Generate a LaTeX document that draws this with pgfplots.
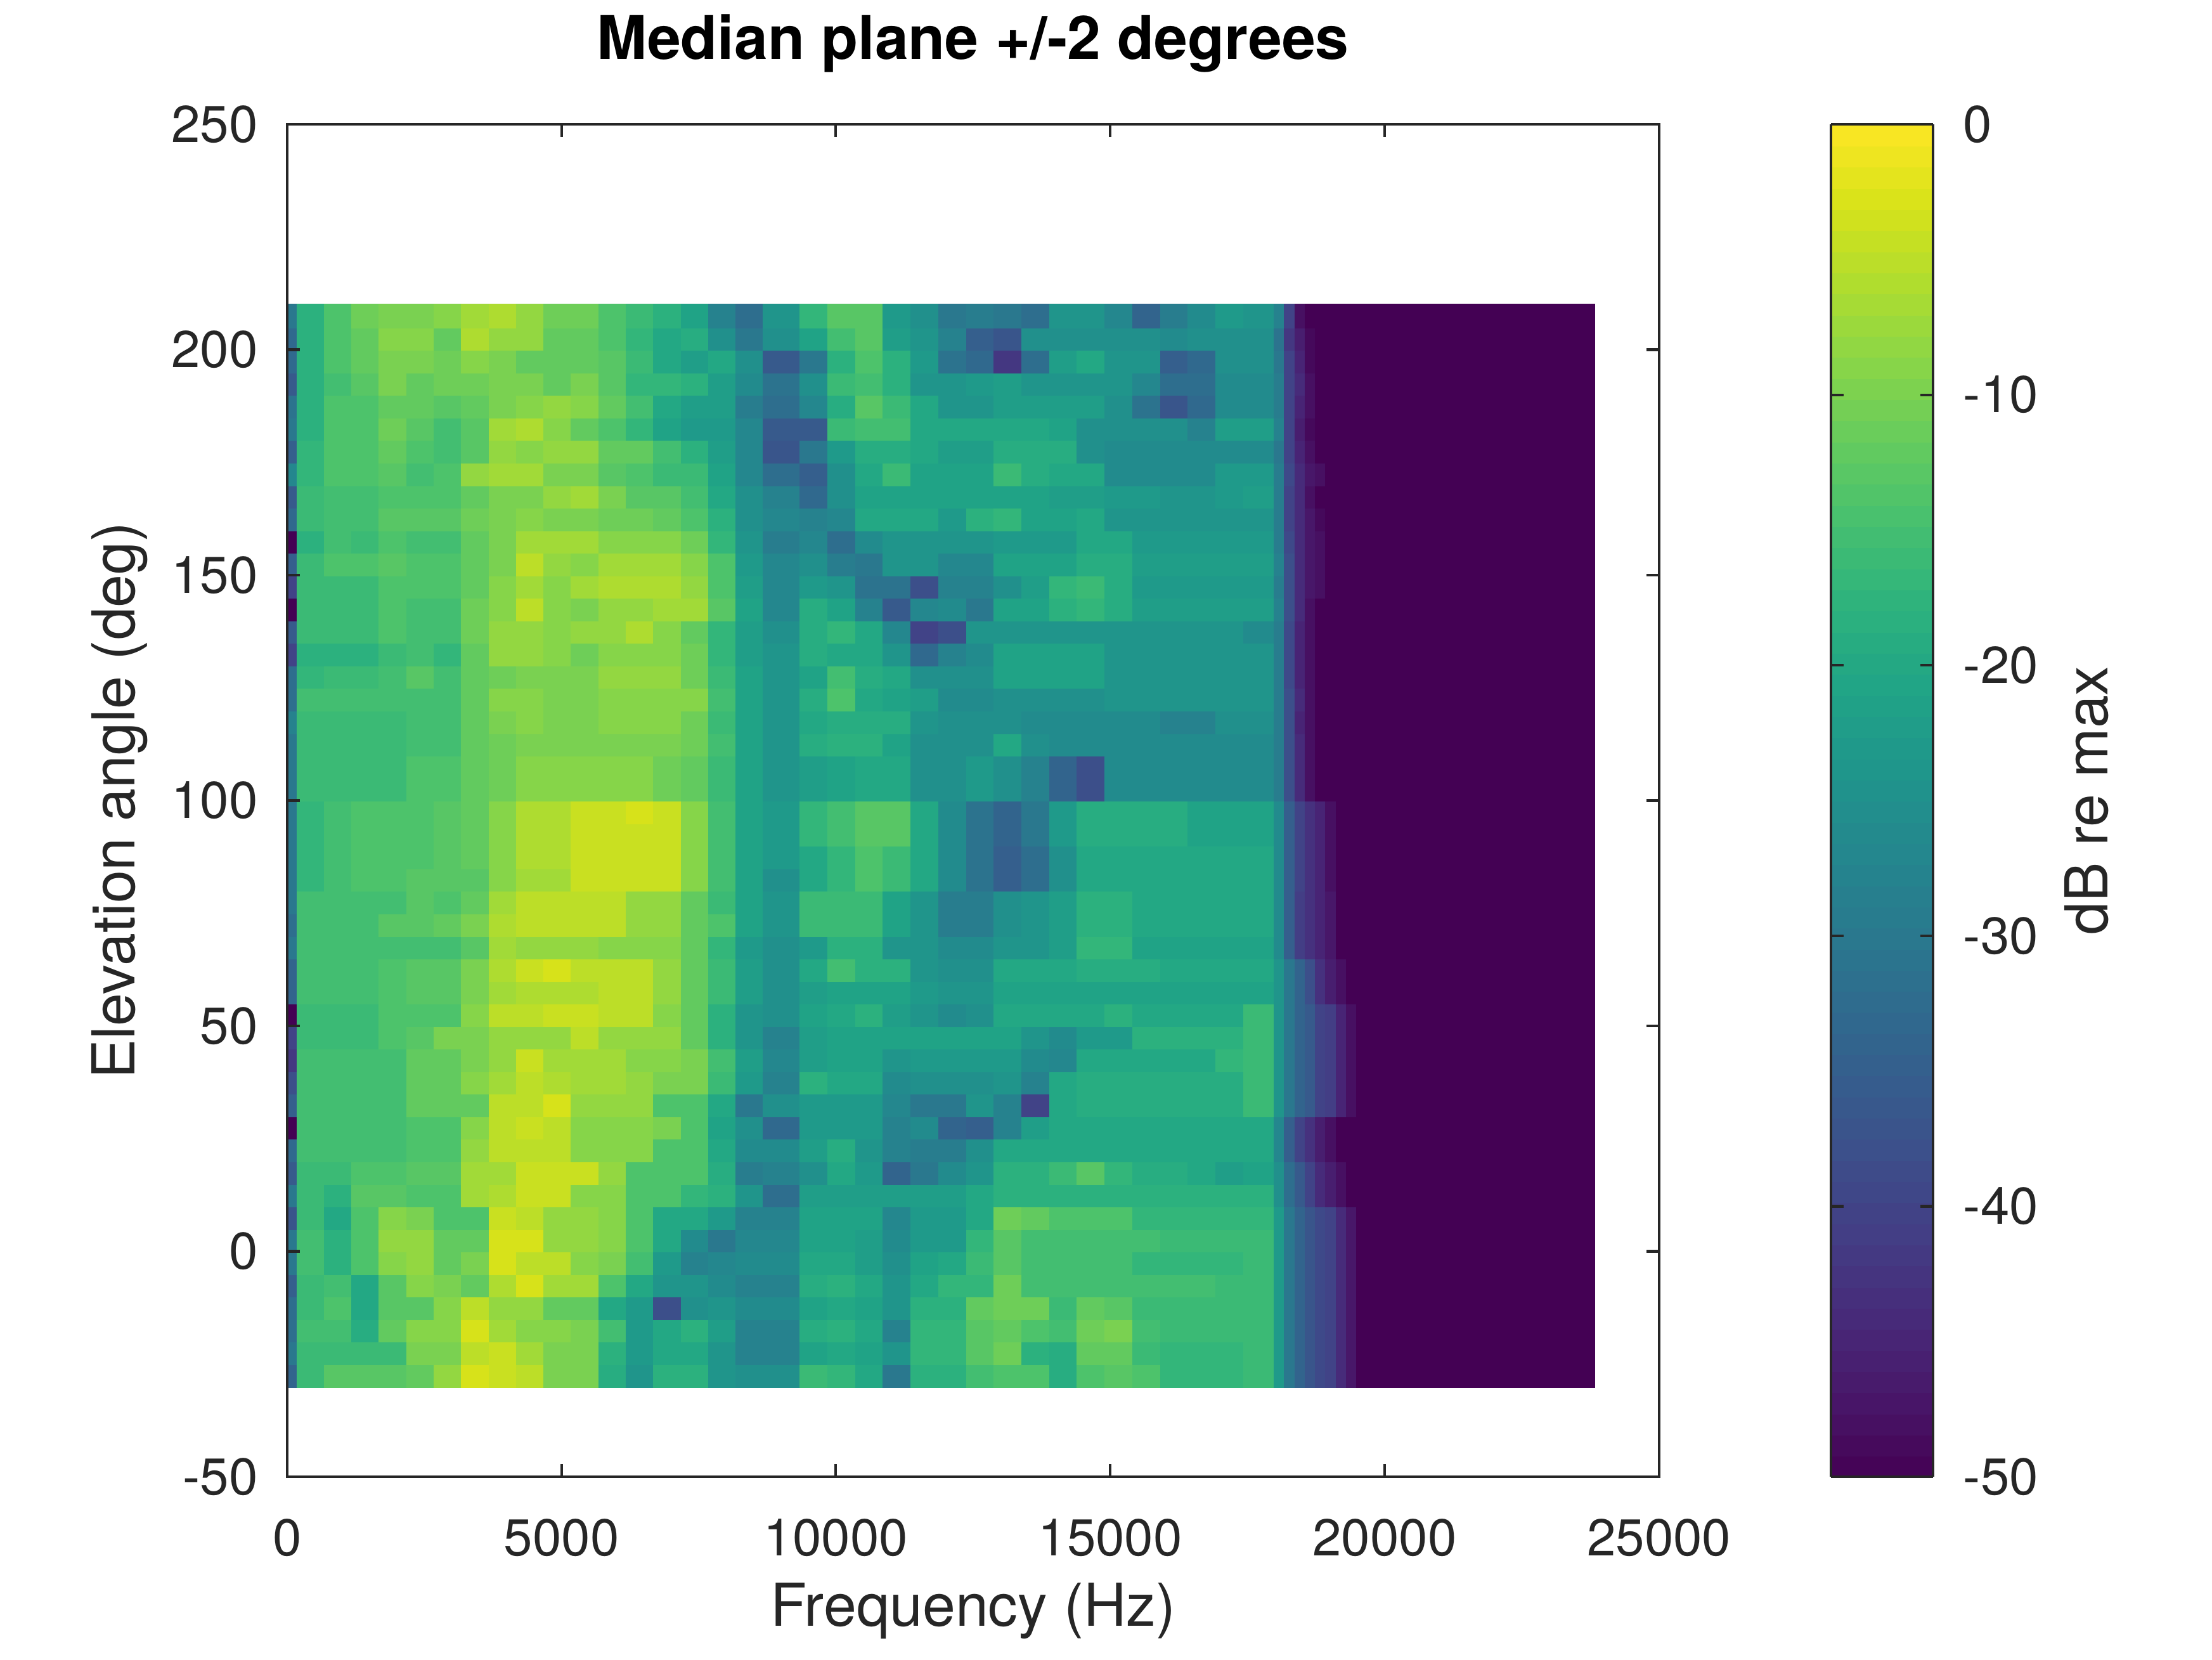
\documentclass[border=0pt]{standalone}
\usepackage{pgfplots}
\pgfplotsset{compat=1.18}
\usepackage{fontspec}
\setmainfont{TeX Gyre Heros}
\definecolor{axgray}{HTML}{262626}
\begin{document}
\begin{tikzpicture}
\begin{axis}[
  scale only axis, width=259.66pt, height=255.96pt,
  xmin=0, xmax=25000, ymin=-50, ymax=250,
  xtick={0,5000,10000,15000,20000,25000}, ytick={-50,0,50,100,150,200,250},
  scaled x ticks=false,
  /pgf/number format/1000 sep={},
  /pgf/number format/assume math mode=true,
  tick align=inside, major tick length=2.4pt,
  xtick pos=both, ytick pos=both,
  axis on top,
  axis line style={axgray, line width=0.5pt},
  tick style={axgray, line width=0.5pt},
  ticklabel style={font=\fontsize{9.8}{11}\selectfont, text=axgray},
  xticklabel style={yshift=-4.4pt},
  yticklabel style={xshift=-2pt},
  colormap/viridis,
  point meta min=-50, point meta max=0,
  colorbar sampled,
  colorbar style={
    samples=65,
    width=19.32pt,
    at={(parent axis.north east)}, anchor=north west, xshift=24.03pt,
    ytick={-50,-40,-30,-20,-10,0},
    tick align=inside, major tick length=2.4pt,
    ytick pos=both, yticklabel pos=right,
    axis line style={axgray, line width=0.5pt},
    tick style={axgray, line width=0.5pt},
    yticklabel style={font=\fontsize{9.8}{11}\selectfont, text=axgray, xshift=2.2pt},
    /pgf/number format/assume math mode=true,
  },
]
\addplot[surf, shader=flat corner, mesh/cols=46, point meta=explicit] table[row sep=\\, x=x, y=y, meta=z] {
x y z\\
0 -30 -34\\190 -30 -16\\690 -30 -13\\1190 -30 -13\\1690 -30 -13\\2190 -30 -12\\2690 -30 -8\\3190 -30 -3\\3690 -30 -4\\4190 -30 -5\\4690 -30 -10\\5190 -30 -10\\5690 -30 -19\\6190 -30 -24\\6690 -30 -18\\7190 -30 -18\\7690 -30 -24\\8190 -30 -25\\8690 -30 -25\\9360 -30 -16\\9865 -30 -17\\10370 -30 -20\\10875 -30 -30\\11380 -30 -18\\11885 -30 -18\\12390 -30 -15\\12895 -30 -14\\13400 -30 -14\\13905 -30 -19\\14410 -30 -14\\14915 -30 -13\\15420 -30 -14\\15925 -30 -17\\16430 -30 -17\\16935 -30 -17\\17440 -30 -16\\18000 -30 -23\\18188 -30 -30\\18375 -30 -34\\18562 -30 -37\\18750 -30 -39\\18938 -30 -40\\19125 -30 -44\\19312 -30 -47\\19500 -30 -50\\23812 -30 -50\\
0 -25 -30\\190 -25 -16\\690 -25 -16\\1190 -25 -16\\1690 -25 -16\\2190 -25 -10\\2690 -25 -10\\3190 -25 -5\\3690 -25 -4\\4190 -25 -7\\4690 -25 -10\\5190 -25 -10\\5690 -25 -18\\6190 -25 -23\\6690 -25 -20\\7190 -25 -20\\7690 -25 -24\\8190 -25 -28\\8690 -25 -28\\9360 -25 -21\\9865 -25 -20\\10370 -25 -21\\10875 -25 -24\\11380 -25 -17\\11885 -25 -17\\12390 -25 -13\\12895 -25 -11\\13400 -25 -18\\13905 -25 -19\\14410 -25 -12\\14915 -25 -12\\15420 -25 -16\\15925 -25 -17\\16430 -25 -17\\16935 -25 -17\\17440 -25 -16\\18000 -25 -23\\18188 -25 -30\\18375 -25 -34\\18562 -25 -37\\18750 -25 -39\\18938 -25 -40\\19125 -25 -44\\19312 -25 -47\\19500 -25 -50\\23812 -25 -50\\
0 -20 -32\\190 -20 -15\\690 -20 -15\\1190 -20 -19\\1690 -20 -12\\2190 -20 -9\\2690 -20 -9\\3190 -20 -3\\3690 -20 -7\\4190 -20 -9\\4690 -20 -9\\5190 -20 -10\\5690 -20 -15\\6190 -20 -23\\6690 -20 -20\\7190 -20 -18\\7690 -20 -22\\8190 -20 -28\\8690 -20 -28\\9360 -20 -19\\9865 -20 -18\\10370 -20 -20\\10875 -20 -28\\11380 -20 -17\\11885 -20 -17\\12390 -20 -13\\12895 -20 -12\\13400 -20 -14\\13905 -20 -15\\14410 -20 -11\\14915 -20 -10\\15420 -20 -15\\15925 -20 -16\\16430 -20 -16\\16935 -20 -16\\17440 -20 -16\\18000 -20 -23\\18188 -20 -30\\18375 -20 -34\\18562 -20 -37\\18750 -20 -39\\18938 -20 -40\\19125 -20 -44\\19312 -20 -47\\19500 -20 -50\\23812 -20 -50\\
0 -15 -32\\190 -15 -16\\690 -15 -14\\1190 -15 -20\\1690 -15 -13\\2190 -15 -13\\2690 -15 -9\\3190 -15 -5\\3690 -15 -8\\4190 -15 -8\\4690 -15 -12\\5190 -15 -12\\5690 -15 -20\\6190 -15 -23\\6690 -15 -38\\7190 -15 -25\\7690 -15 -24\\8190 -15 -26\\8690 -15 -26\\9360 -15 -21\\9865 -15 -20\\10370 -15 -21\\10875 -15 -24\\11380 -15 -18\\11885 -15 -18\\12390 -15 -12\\12895 -15 -11\\13400 -15 -11\\13905 -15 -16\\14410 -15 -12\\14915 -15 -13\\15420 -15 -16\\15925 -15 -16\\16430 -15 -16\\16935 -15 -16\\17440 -15 -16\\18000 -15 -23\\18188 -15 -30\\18375 -15 -34\\18562 -15 -37\\18750 -15 -39\\18938 -15 -40\\19125 -15 -44\\19312 -15 -47\\19500 -15 -50\\23812 -15 -50\\
0 -10 -35\\190 -10 -16\\690 -10 -15\\1190 -10 -20\\1690 -10 -13\\2190 -10 -9\\2690 -10 -10\\3190 -10 -12\\3690 -10 -6\\4190 -10 -3\\4690 -10 -7\\5190 -10 -7\\5690 -10 -14\\6190 -10 -20\\6690 -10 -24\\7190 -10 -24\\7690 -10 -26\\8190 -10 -28\\8690 -10 -28\\9360 -10 -19\\9865 -10 -18\\10370 -10 -20\\10875 -10 -24\\11380 -10 -20\\11885 -10 -17\\12390 -10 -17\\12895 -10 -11\\13400 -10 -15\\13905 -10 -15\\14410 -10 -15\\14915 -10 -15\\15420 -10 -15\\15925 -10 -15\\16430 -10 -15\\16935 -10 -16\\17440 -10 -16\\18000 -10 -23\\18188 -10 -30\\18375 -10 -34\\18562 -10 -37\\18750 -10 -39\\18938 -10 -40\\19125 -10 -44\\19312 -10 -47\\19500 -10 -50\\23812 -10 -50\\
0 -5 -30\\190 -5 -15\\690 -5 -18\\1190 -5 -14\\1690 -5 -9\\2190 -5 -8\\2690 -5 -12\\3190 -5 -10\\3690 -5 -3\\4190 -5 -5\\4690 -5 -5\\5190 -5 -9\\5690 -5 -10\\6190 -5 -15\\6690 -5 -23\\7190 -5 -28\\7690 -5 -27\\8190 -5 -26\\8690 -5 -26\\9360 -5 -20\\9865 -5 -20\\10370 -5 -22\\10875 -5 -25\\11380 -5 -21\\11885 -5 -20\\12390 -5 -16\\12895 -5 -13\\13400 -5 -15\\13905 -5 -15\\14410 -5 -15\\14915 -5 -15\\15420 -5 -17\\15925 -5 -17\\16430 -5 -17\\16935 -5 -17\\17440 -5 -16\\18000 -5 -23\\18188 -5 -30\\18375 -5 -34\\18562 -5 -37\\18750 -5 -39\\18938 -5 -40\\19125 -5 -44\\19312 -5 -47\\19500 -5 -50\\23812 -5 -50\\
0 0 -30\\190 0 -15\\690 0 -18\\1190 0 -14\\1690 0 -8\\2190 0 -8\\2690 0 -12\\3190 0 -12\\3690 0 -3\\4190 0 -3\\4690 0 -8\\5190 0 -8\\5690 0 -9\\6190 0 -14\\6690 0 -20\\7190 0 -26\\7690 0 -30\\8190 0 -27\\8690 0 -27\\9360 0 -21\\9865 0 -21\\10370 0 -22\\10875 0 -26\\11380 0 -23\\11885 0 -23\\12390 0 -17\\12895 0 -13\\13400 0 -15\\13905 0 -15\\14410 0 -15\\14915 0 -15\\15420 0 -15\\15925 0 -16\\16430 0 -16\\16935 0 -16\\17440 0 -16\\18000 0 -23\\18188 0 -30\\18375 0 -34\\18562 0 -37\\18750 0 -39\\18938 0 -40\\19125 0 -44\\19312 0 -47\\19500 0 -50\\23812 0 -50\\
0 5 -37\\190 5 -16\\690 5 -20\\1190 5 -14\\1690 5 -9\\2190 5 -10\\2690 5 -14\\3190 5 -14\\3690 5 -4\\4190 5 -5\\4690 5 -8\\5190 5 -8\\5690 5 -9\\6190 5 -14\\6690 5 -20\\7190 5 -20\\7690 5 -23\\8190 5 -28\\8690 5 -28\\9360 5 -21\\9865 5 -21\\10370 5 -21\\10875 5 -27\\11380 5 -23\\11885 5 -23\\12390 5 -20\\12895 5 -11\\13400 5 -12\\13905 5 -14\\14410 5 -14\\14915 5 -14\\15420 5 -17\\15925 5 -17\\16430 5 -17\\16935 5 -17\\17440 5 -17\\18000 5 -23\\18188 5 -30\\18375 5 -34\\18562 5 -37\\18750 5 -39\\18938 5 -40\\19125 5 -44\\19312 5 -47\\19500 5 -50\\23812 5 -50\\
0 10 -30\\190 10 -16\\690 10 -18\\1190 10 -13\\1690 10 -13\\2190 10 -14\\2690 10 -14\\3190 10 -7\\3690 10 -6\\4190 10 -4\\4690 10 -4\\5190 10 -9\\5690 10 -9\\6190 10 -14\\6690 10 -14\\7190 10 -17\\7690 10 -18\\8190 10 -24\\8690 10 -32\\9360 10 -22\\9865 10 -22\\10370 10 -22\\10875 10 -22\\11380 10 -22\\11885 10 -22\\12390 10 -20\\12895 10 -18\\13400 10 -18\\13905 10 -18\\14410 10 -18\\14915 10 -18\\15420 10 -18\\15925 10 -18\\16430 10 -18\\16935 10 -18\\17440 10 -18\\18000 10 -25\\18188 10 -32\\18375 10 -36\\18562 10 -40\\18750 10 -44\\18938 10 -46\\19125 10 -48\\19312 10 -50\\19500 10 -50\\23812 10 -50\\
0 15 -36\\190 15 -16\\690 15 -16\\1190 15 -14\\1690 15 -14\\2190 15 -13\\2690 15 -13\\3190 15 -7\\3690 15 -7\\4190 15 -4\\4690 15 -4\\5190 15 -4\\5690 15 -8\\6190 15 -14\\6690 15 -14\\7190 15 -14\\7690 15 -19\\8190 15 -29\\8690 15 -28\\9360 15 -25\\9865 15 -20\\10370 15 -23\\10875 15 -34\\11380 15 -30\\11885 15 -26\\12390 15 -24\\12895 15 -18\\13400 15 -18\\13905 15 -16\\14410 15 -13\\14915 15 -17\\15420 15 -19\\15925 15 -19\\16430 15 -20\\16935 15 -22\\17440 15 -21\\18000 15 -25\\18188 15 -32\\18375 15 -36\\18562 15 -40\\18750 15 -44\\18938 15 -46\\19125 15 -48\\19312 15 -50\\19500 15 -50\\23812 15 -50\\
0 20 -33\\190 20 -15\\690 20 -15\\1190 20 -15\\1690 20 -15\\2190 20 -14\\2690 20 -14\\3190 20 -8\\3690 20 -5\\4190 20 -5\\4690 20 -5\\5190 20 -9\\5690 20 -9\\6190 20 -9\\6690 20 -14\\7190 20 -14\\7690 20 -20\\8190 20 -26\\8690 20 -26\\9360 20 -22\\9865 20 -19\\10370 20 -24\\10875 20 -28\\11380 20 -29\\11885 20 -29\\12390 20 -25\\12895 20 -20\\13400 20 -20\\13905 20 -20\\14410 20 -20\\14915 20 -20\\15420 20 -20\\15925 20 -20\\16430 20 -20\\16935 20 -20\\17440 20 -20\\18000 20 -27\\18188 20 -35\\18375 20 -40\\18562 20 -43\\18750 20 -46\\18938 20 -48\\19125 20 -50\\19312 20 -50\\19500 20 -50\\23812 20 -50\\
0 25 -50\\190 25 -15\\690 25 -15\\1190 25 -15\\1690 25 -15\\2190 25 -14\\2690 25 -14\\3190 25 -9\\3690 25 -5\\4190 25 -4\\4690 25 -5\\5190 25 -9\\5690 25 -9\\6190 25 -9\\6690 25 -10\\7190 25 -14\\7690 25 -21\\8190 25 -25\\8690 25 -33\\9360 25 -23\\9865 25 -23\\10370 25 -23\\10875 25 -28\\11380 25 -26\\11885 25 -34\\12390 25 -35\\12895 25 -28\\13400 25 -22\\13905 25 -20\\14410 25 -20\\14915 25 -20\\15420 25 -20\\15925 25 -20\\16430 25 -20\\16935 25 -20\\17440 25 -20\\18000 25 -27\\18188 25 -35\\18375 25 -40\\18562 25 -43\\18750 25 -46\\18938 25 -48\\19125 25 -50\\19312 25 -50\\19500 25 -50\\23812 25 -50\\
0 30 -35\\190 30 -15\\690 30 -15\\1190 30 -15\\1690 30 -15\\2190 30 -12\\2690 30 -12\\3190 30 -12\\3690 30 -5\\4190 30 -5\\4690 30 -3\\5190 30 -8\\5690 30 -8\\6190 30 -8\\6690 30 -14\\7190 30 -14\\7690 30 -20\\8190 30 -30\\8690 30 -25\\9360 30 -23\\9865 30 -23\\10370 30 -23\\10875 30 -27\\11380 30 -30\\11885 30 -30\\12390 30 -24\\12895 30 -28\\13400 30 -40\\13905 30 -20\\14410 30 -19\\14915 30 -19\\15420 30 -19\\15925 30 -19\\16430 30 -19\\16935 30 -19\\17440 30 -16\\18000 30 -24\\18188 30 -30\\18375 30 -34\\18562 30 -36\\18750 30 -40\\18938 30 -41\\19125 30 -45\\19312 30 -48\\19500 30 -50\\23812 30 -50\\
0 35 -38\\190 35 -15\\690 35 -15\\1190 35 -15\\1690 35 -15\\2190 35 -12\\2690 35 -12\\3190 35 -9\\3690 35 -7\\4190 35 -5\\4690 35 -6\\5190 35 -7\\5690 35 -7\\6190 35 -8\\6690 35 -10\\7190 35 -10\\7690 35 -16\\8190 35 -23\\8690 35 -28\\9360 35 -18\\9865 35 -20\\10370 35 -20\\10875 35 -26\\11380 35 -25\\11885 35 -25\\12390 35 -25\\12895 35 -24\\13400 35 -28\\13905 35 -20\\14410 35 -19\\14915 35 -19\\15420 35 -19\\15925 35 -19\\16430 35 -19\\16935 35 -19\\17440 35 -16\\18000 35 -24\\18188 35 -30\\18375 35 -34\\18562 35 -36\\18750 35 -40\\18938 35 -41\\19125 35 -45\\19312 35 -48\\19500 35 -50\\23812 35 -50\\
0 40 -42\\190 40 -15\\690 40 -15\\1190 40 -15\\1690 40 -15\\2190 40 -12\\2690 40 -12\\3190 40 -10\\3690 40 -8\\4190 40 -4\\4690 40 -7\\5190 40 -7\\5690 40 -7\\6190 40 -9\\6690 40 -9\\7190 40 -10\\7690 40 -15\\8190 40 -22\\8690 40 -27\\9360 40 -22\\9865 40 -21\\10370 40 -21\\10875 40 -24\\11380 40 -23\\11885 40 -23\\12390 40 -23\\12895 40 -23\\13400 40 -26\\13905 40 -27\\14410 40 -20\\14915 40 -20\\15420 40 -20\\15925 40 -20\\16430 40 -20\\16935 40 -17\\17440 40 -16\\18000 40 -24\\18188 40 -30\\18375 40 -34\\18562 40 -36\\18750 40 -40\\18938 40 -41\\19125 40 -45\\19312 40 -48\\19500 40 -50\\23812 40 -50\\
0 45 -40\\190 45 -16\\690 45 -16\\1190 45 -16\\1690 45 -14\\2190 45 -13\\2690 45 -10\\3190 45 -10\\3690 45 -8\\4190 45 -8\\4690 45 -8\\5190 45 -5\\5690 45 -8\\6190 45 -8\\6690 45 -8\\7190 45 -12\\7690 45 -18\\8190 45 -24\\8690 45 -28\\9360 45 -22\\9865 45 -21\\10370 45 -21\\10875 45 -21\\11380 45 -21\\11885 45 -21\\12390 45 -21\\12895 45 -21\\13400 45 -24\\13905 45 -26\\14410 45 -23\\14915 45 -23\\15420 45 -18\\15925 45 -18\\16430 45 -18\\16935 45 -18\\17440 45 -16\\18000 45 -24\\18188 45 -30\\18375 45 -34\\18562 45 -36\\18750 45 -40\\18938 45 -41\\19125 45 -45\\19312 45 -48\\19500 45 -50\\23812 45 -50\\
0 50 -50\\190 50 -16\\690 50 -16\\1190 50 -16\\1690 50 -14\\2190 50 -14\\2690 50 -14\\3190 50 -9\\3690 50 -5\\4190 50 -5\\4690 50 -4\\5190 50 -4\\5690 50 -5\\6190 50 -5\\6690 50 -9\\7190 50 -12\\7690 50 -18\\8190 50 -24\\8690 50 -25\\9360 50 -21\\9865 50 -20\\10370 50 -18\\10875 50 -22\\11380 50 -24\\11885 50 -26\\12390 50 -25\\12895 50 -20\\13400 50 -20\\13905 50 -20\\14410 50 -20\\14915 50 -18\\15420 50 -20\\15925 50 -20\\16430 50 -20\\16935 50 -20\\17440 50 -16\\18000 50 -24\\18188 50 -30\\18375 50 -34\\18562 50 -36\\18750 50 -40\\18938 50 -41\\19125 50 -45\\19312 50 -48\\19500 50 -50\\23812 50 -50\\
0 55 -34\\190 55 -15\\690 55 -15\\1190 55 -15\\1690 55 -14\\2190 55 -13\\2690 55 -13\\3190 55 -10\\3690 55 -7\\4190 55 -6\\4690 55 -6\\5190 55 -6\\5690 55 -5\\6190 55 -5\\6690 55 -8\\7190 55 -12\\7690 55 -16\\8190 55 -22\\8690 55 -25\\9360 55 -22\\9865 55 -21\\10370 55 -21\\10875 55 -21\\11380 55 -23\\11885 55 -24\\12390 55 -24\\12895 55 -21\\13400 55 -21\\13905 55 -21\\14410 55 -21\\14915 55 -21\\15420 55 -21\\15925 55 -21\\16430 55 -21\\16935 55 -21\\17440 55 -21\\18000 55 -24\\18188 55 -30\\18375 55 -34\\18562 55 -38\\18750 55 -43\\18938 55 -46\\19125 55 -48\\19312 55 -50\\19500 55 -50\\23812 55 -50\\
0 60 -34\\190 60 -15\\690 60 -15\\1190 60 -15\\1690 60 -14\\2190 60 -13\\2690 60 -13\\3190 60 -10\\3690 60 -6\\4190 60 -4\\4690 60 -3\\5190 60 -5\\5690 60 -5\\6190 60 -5\\6690 60 -8\\7190 60 -12\\7690 60 -16\\8190 60 -22\\8690 60 -25\\9360 60 -20\\9865 60 -15\\10370 60 -18\\10875 60 -18\\11380 60 -24\\11885 60 -25\\12390 60 -25\\12895 60 -20\\13400 60 -20\\13905 60 -20\\14410 60 -19\\14915 60 -19\\15420 60 -19\\15925 60 -20\\16430 60 -20\\16935 60 -20\\17440 60 -20\\18000 60 -24\\18188 60 -30\\18375 60 -34\\18562 60 -38\\18750 60 -43\\18938 60 -46\\19125 60 -48\\19312 60 -50\\19500 60 -50\\23812 60 -50\\
0 65 -30\\190 65 -15\\690 65 -15\\1190 65 -15\\1690 65 -15\\2190 65 -15\\2690 65 -15\\3190 65 -13\\3690 65 -7\\4190 65 -8\\4690 65 -8\\5190 65 -8\\5690 65 -9\\6190 65 -9\\6690 65 -9\\7190 65 -12\\7690 65 -17\\8190 65 -23\\8690 65 -25\\9360 65 -23\\9865 65 -18\\10370 65 -18\\10875 65 -24\\11380 65 -24\\11885 65 -26\\12390 65 -26\\12895 65 -24\\13400 65 -24\\13905 65 -22\\14410 65 -17\\14915 65 -17\\15420 65 -21\\15925 65 -21\\16430 65 -21\\16935 65 -21\\17440 65 -21\\18000 65 -26\\18188 65 -35\\18375 65 -41\\18562 65 -43\\18750 65 -45\\18938 65 -47\\19125 65 -50\\19312 65 -50\\19500 65 -50\\23812 65 -50\\
0 70 -32\\190 70 -15\\690 70 -15\\1190 70 -15\\1690 70 -13\\2190 70 -13\\2690 70 -12\\3190 70 -10\\3690 70 -6\\4190 70 -5\\4690 70 -5\\5190 70 -5\\5690 70 -5\\6190 70 -8\\6690 70 -8\\7190 70 -12\\7690 70 -14\\8190 70 -21\\8690 70 -24\\9360 70 -16\\9865 70 -16\\10370 70 -16\\10875 70 -21\\11380 70 -24\\11885 70 -29\\12390 70 -29\\12895 70 -25\\13400 70 -24\\13905 70 -22\\14410 70 -18\\14915 70 -18\\15420 70 -20\\15925 70 -20\\16430 70 -20\\16935 70 -20\\17440 70 -20\\18000 70 -26\\18188 70 -35\\18375 70 -41\\18562 70 -43\\18750 70 -45\\18938 70 -47\\19125 70 -50\\19312 70 -50\\19500 70 -50\\23812 70 -50\\
0 75 -30\\190 75 -15\\690 75 -15\\1190 75 -15\\1690 75 -15\\2190 75 -13\\2690 75 -14\\3190 75 -12\\3690 75 -7\\4190 75 -5\\4690 75 -5\\5190 75 -5\\5690 75 -5\\6190 75 -8\\6690 75 -8\\7190 75 -12\\7690 75 -16\\8190 75 -21\\8690 75 -24\\9360 75 -16\\9865 75 -16\\10370 75 -16\\10875 75 -21\\11380 75 -24\\11885 75 -29\\12390 75 -29\\12895 75 -25\\13400 75 -24\\13905 75 -22\\14410 75 -18\\14915 75 -18\\15420 75 -20\\15925 75 -20\\16430 75 -20\\16935 75 -20\\17440 75 -20\\18000 75 -26\\18188 75 -35\\18375 75 -41\\18562 75 -43\\18750 75 -45\\18938 75 -47\\19125 75 -50\\19312 75 -50\\19500 75 -50\\23812 75 -50\\
0 80 -30\\190 80 -17\\690 80 -15\\1190 80 -14\\1690 80 -14\\2190 80 -13\\2690 80 -13\\3190 80 -13\\3690 80 -9\\4190 80 -7\\4690 80 -7\\5190 80 -4\\5690 80 -4\\6190 80 -4\\6690 80 -4\\7190 80 -9\\7690 80 -15\\8190 80 -21\\8690 80 -25\\9360 80 -20\\9865 80 -17\\10370 80 -14\\10875 80 -16\\11380 80 -20\\11885 80 -26\\12390 80 -31\\12895 80 -35\\13400 80 -32\\13905 80 -25\\14410 80 -20\\14915 80 -20\\15420 80 -20\\15925 80 -20\\16430 80 -20\\16935 80 -20\\17440 80 -20\\18000 80 -26\\18188 80 -35\\18375 80 -40\\18562 80 -43\\18750 80 -45\\18938 80 -48\\19125 80 -50\\19312 80 -50\\19500 80 -50\\23812 80 -50\\
0 85 -30\\190 85 -17\\690 85 -15\\1190 85 -14\\1690 85 -14\\2190 85 -14\\2690 85 -13\\3190 85 -12\\3690 85 -9\\4190 85 -6\\4690 85 -6\\5190 85 -4\\5690 85 -4\\6190 85 -4\\6690 85 -4\\7190 85 -9\\7690 85 -15\\8190 85 -21\\8690 85 -23\\9360 85 -20\\9865 85 -17\\10370 85 -14\\10875 85 -16\\11380 85 -20\\11885 85 -26\\12390 85 -31\\12895 85 -35\\13400 85 -32\\13905 85 -25\\14410 85 -20\\14915 85 -20\\15420 85 -20\\15925 85 -20\\16430 85 -20\\16935 85 -20\\17440 85 -20\\18000 85 -26\\18188 85 -35\\18375 85 -40\\18562 85 -43\\18750 85 -45\\18938 85 -48\\19125 85 -50\\19312 85 -50\\19500 85 -50\\23812 85 -50\\
0 90 -30\\190 90 -17\\690 90 -15\\1190 90 -14\\1690 90 -14\\2190 90 -14\\2690 90 -13\\3190 90 -12\\3690 90 -9\\4190 90 -6\\4690 90 -6\\5190 90 -4\\5690 90 -4\\6190 90 -4\\6690 90 -4\\7190 90 -9\\7690 90 -15\\8190 90 -21\\8690 90 -23\\9360 90 -17\\9865 90 -15\\10370 90 -13\\10875 90 -13\\11380 90 -20\\11885 90 -26\\12390 90 -31\\12895 90 -34\\13400 90 -30\\13905 90 -23\\14410 90 -19\\14915 90 -19\\15420 90 -19\\15925 90 -19\\16430 90 -21\\16935 90 -21\\17440 90 -21\\18000 90 -26\\18188 90 -35\\18375 90 -40\\18562 90 -43\\18750 90 -45\\18938 90 -48\\19125 90 -50\\19312 90 -50\\19500 90 -50\\23812 90 -50\\
0 95 -30\\190 95 -17\\690 95 -15\\1190 95 -14\\1690 95 -14\\2190 95 -14\\2690 95 -13\\3190 95 -12\\3690 95 -9\\4190 95 -6\\4690 95 -6\\5190 95 -4\\5690 95 -4\\6190 95 -3\\6690 95 -4\\7190 95 -9\\7690 95 -15\\8190 95 -21\\8690 95 -23\\9360 95 -17\\9865 95 -15\\10370 95 -13\\10875 95 -13\\11380 95 -20\\11885 95 -26\\12390 95 -31\\12895 95 -34\\13400 95 -30\\13905 95 -23\\14410 95 -19\\14915 95 -19\\15420 95 -19\\15925 95 -19\\16430 95 -21\\16935 95 -21\\17440 95 -21\\18000 95 -26\\18188 95 -35\\18375 95 -40\\18562 95 -43\\18750 95 -45\\18938 95 -48\\19125 95 -50\\19312 95 -50\\19500 95 -50\\23812 95 -50\\
0 100 -30\\190 100 -16\\690 100 -16\\1190 100 -16\\1690 100 -16\\2190 100 -14\\2690 100 -14\\3190 100 -12\\3690 100 -11\\4190 100 -9\\4690 100 -9\\5190 100 -9\\5690 100 -9\\6190 100 -9\\6690 100 -11\\7190 100 -12\\7690 100 -16\\8190 100 -21\\8690 100 -24\\9360 100 -22\\9865 100 -21\\10370 100 -20\\10875 100 -20\\11380 100 -25\\11885 100 -25\\12390 100 -23\\12895 100 -25\\13400 100 -28\\13905 100 -34\\14410 100 -38\\14915 100 -26\\15420 100 -26\\15925 100 -26\\16430 100 -26\\16935 100 -26\\17440 100 -26\\18000 100 -29\\18188 100 -38\\18375 100 -44\\18562 100 -48\\18750 100 -50\\18938 100 -50\\19125 100 -50\\19312 100 -50\\19500 100 -50\\23812 100 -50\\
0 105 -30\\190 105 -16\\690 105 -16\\1190 105 -16\\1690 105 -16\\2190 105 -14\\2690 105 -14\\3190 105 -12\\3690 105 -11\\4190 105 -9\\4690 105 -9\\5190 105 -9\\5690 105 -9\\6190 105 -9\\6690 105 -11\\7190 105 -12\\7690 105 -16\\8190 105 -21\\8690 105 -24\\9360 105 -22\\9865 105 -21\\10370 105 -20\\10875 105 -20\\11380 105 -25\\11885 105 -25\\12390 105 -23\\12895 105 -25\\13400 105 -28\\13905 105 -34\\14410 105 -38\\14915 105 -26\\15420 105 -26\\15925 105 -26\\16430 105 -26\\16935 105 -26\\17440 105 -26\\18000 105 -29\\18188 105 -38\\18375 105 -44\\18562 105 -48\\18750 105 -50\\18938 105 -50\\19125 105 -50\\19312 105 -50\\19500 105 -50\\23812 105 -50\\
0 110 -30\\190 110 -16\\690 110 -16\\1190 110 -16\\1690 110 -16\\2190 110 -15\\2690 110 -15\\3190 110 -12\\3690 110 -11\\4190 110 -10\\4690 110 -10\\5190 110 -10\\5690 110 -10\\6190 110 -10\\6690 110 -10\\7190 110 -11\\7690 110 -15\\8190 110 -21\\8690 110 -24\\9360 110 -19\\9865 110 -18\\10370 110 -18\\10875 110 -21\\11380 110 -25\\11885 110 -25\\12390 110 -25\\12895 110 -20\\13400 110 -25\\13905 110 -26\\14410 110 -26\\14915 110 -26\\15420 110 -26\\15925 110 -26\\16430 110 -26\\16935 110 -26\\17440 110 -26\\18000 110 -29\\18188 110 -38\\18375 110 -44\\18562 110 -48\\18750 110 -50\\18938 110 -50\\19125 110 -50\\19312 110 -50\\19500 110 -50\\23812 110 -50\\
0 115 -28\\190 115 -16\\690 115 -16\\1190 115 -16\\1690 115 -16\\2190 115 -15\\2690 115 -15\\3190 115 -12\\3690 115 -10\\4190 115 -9\\4690 115 -10\\5190 115 -10\\5690 115 -9\\6190 115 -9\\6690 115 -9\\7190 115 -11\\7690 115 -16\\8190 115 -21\\8690 115 -24\\9360 115 -20\\9865 115 -19\\10370 115 -19\\10875 115 -19\\11380 115 -24\\11885 115 -25\\12390 115 -25\\12895 115 -25\\13400 115 -26\\13905 115 -26\\14410 115 -26\\14915 115 -26\\15420 115 -26\\15925 115 -28\\16430 115 -28\\16935 115 -25\\17440 115 -25\\18000 115 -29\\18188 115 -38\\18375 115 -45\\18562 115 -48\\18750 115 -50\\18938 115 -50\\19125 115 -50\\19312 115 -50\\19500 115 -50\\23812 115 -50\\
0 120 -32\\190 120 -15\\690 120 -15\\1190 120 -15\\1690 120 -15\\2190 120 -15\\2690 120 -15\\3190 120 -12\\3690 120 -9\\4190 120 -9\\4690 120 -10\\5190 120 -10\\5690 120 -9\\6190 120 -9\\6690 120 -9\\7190 120 -9\\7690 120 -15\\8190 120 -21\\8690 120 -24\\9360 120 -19\\9865 120 -14\\10370 120 -20\\10875 120 -21\\11380 120 -22\\11885 120 -26\\12390 120 -26\\12895 120 -25\\13400 120 -25\\13905 120 -25\\14410 120 -25\\14915 120 -24\\15420 120 -24\\15925 120 -24\\16430 120 -24\\16935 120 -24\\17440 120 -24\\18000 120 -29\\18188 120 -38\\18375 120 -44\\18562 120 -48\\18750 120 -50\\18938 120 -50\\19125 120 -50\\19312 120 -50\\19500 120 -50\\23812 120 -50\\
0 125 -32\\190 125 -17\\690 125 -16\\1190 125 -16\\1690 125 -15\\2190 125 -13\\2690 125 -15\\3190 125 -12\\3690 125 -11\\4190 125 -10\\4690 125 -10\\5190 125 -10\\5690 125 -8\\6190 125 -8\\6690 125 -8\\7190 125 -11\\7690 125 -16\\8190 125 -21\\8690 125 -24\\9360 125 -21\\9865 125 -15\\10370 125 -19\\10875 125 -20\\11380 125 -25\\11885 125 -25\\12390 125 -25\\12895 125 -21\\13400 125 -21\\13905 125 -21\\14410 125 -21\\14915 125 -24\\15420 125 -24\\15925 125 -24\\16430 125 -24\\16935 125 -24\\17440 125 -24\\18000 125 -29\\18188 125 -39\\18375 125 -45\\18562 125 -48\\18750 125 -50\\18938 125 -50\\19125 125 -50\\19312 125 -50\\19500 125 -50\\23812 125 -50\\
0 130 -40\\190 130 -18\\690 130 -18\\1190 130 -18\\1690 130 -16\\2190 130 -15\\2690 130 -17\\3190 130 -12\\3690 130 -8\\4190 130 -8\\4690 130 -9\\5190 130 -11\\5690 130 -9\\6190 130 -9\\6690 130 -9\\7190 130 -11\\7690 130 -17\\8190 130 -22\\8690 130 -24\\9360 130 -19\\9865 130 -20\\10370 130 -20\\10875 130 -24\\11380 130 -33\\11885 130 -28\\12390 130 -26\\12895 130 -21\\13400 130 -21\\13905 130 -21\\14410 130 -21\\14915 130 -24\\15420 130 -24\\15925 130 -24\\16430 130 -24\\16935 130 -24\\17440 130 -24\\18000 130 -29\\18188 130 -39\\18375 130 -45\\18562 130 -48\\18750 130 -50\\18938 130 -50\\19125 130 -50\\19312 130 -50\\19500 130 -50\\23812 130 -50\\
0 135 -36\\190 135 -16\\690 135 -16\\1190 135 -16\\1690 135 -14\\2190 135 -15\\2690 135 -15\\3190 135 -11\\3690 135 -8\\4190 135 -8\\4690 135 -9\\5190 135 -8\\5690 135 -8\\6190 135 -6\\6690 135 -9\\7190 135 -12\\7690 135 -17\\8190 135 -22\\8690 135 -25\\9360 135 -19\\9865 135 -17\\10370 135 -20\\10875 135 -27\\11380 135 -40\\11885 135 -38\\12390 135 -24\\12895 135 -24\\13400 135 -24\\13905 135 -24\\14410 135 -24\\14915 135 -24\\15420 135 -24\\15925 135 -24\\16430 135 -24\\16935 135 -24\\17440 135 -26\\18000 135 -29\\18188 135 -39\\18375 135 -45\\18562 135 -48\\18750 135 -50\\18938 135 -50\\19125 135 -50\\19312 135 -50\\19500 135 -50\\23812 135 -50\\
0 140 -50\\190 140 -16\\690 140 -16\\1190 140 -16\\1690 140 -14\\2190 140 -15\\2690 140 -15\\3190 140 -11\\3690 140 -9\\4190 140 -5\\4690 140 -9\\5190 140 -10\\5690 140 -8\\6190 140 -8\\6690 140 -7\\7190 140 -7\\7690 140 -13\\8190 140 -21\\8690 140 -27\\9360 140 -19\\9865 140 -21\\10370 140 -28\\10875 140 -36\\11380 140 -27\\11885 140 -26\\12390 140 -30\\12895 140 -21\\13400 140 -21\\13905 140 -18\\14410 140 -17\\14915 140 -19\\15420 140 -22\\15925 140 -22\\16430 140 -22\\16935 140 -22\\17440 140 -22\\18000 140 -28\\18188 140 -38\\18375 140 -44\\18562 140 -48\\18750 140 -50\\18938 140 -50\\19125 140 -50\\19312 140 -50\\19500 140 -50\\23812 140 -50\\
0 145 -40\\190 145 -16\\690 145 -16\\1190 145 -16\\1690 145 -14\\2190 145 -14\\2690 145 -14\\3190 145 -12\\3690 145 -9\\4190 145 -7\\4690 145 -9\\5190 145 -7\\5690 145 -6\\6190 145 -6\\6690 145 -6\\7190 145 -8\\7690 145 -14\\8190 145 -22\\8690 145 -27\\9360 145 -23\\9865 145 -24\\10370 145 -31\\10875 145 -31\\11380 145 -38\\11885 145 -28\\12390 145 -28\\12895 145 -25\\13400 145 -22\\13905 145 -17\\14410 145 -16\\14915 145 -19\\15420 145 -23\\15925 145 -23\\16430 145 -23\\16935 145 -23\\17440 145 -23\\18000 145 -29\\18188 145 -38\\18375 145 -44\\18562 145 -47\\18750 145 -48\\18938 145 -50\\19125 145 -50\\19312 145 -50\\19500 145 -50\\23812 145 -50\\
0 150 -35\\190 150 -16\\690 150 -14\\1190 150 -14\\1690 150 -13\\2190 150 -14\\2690 150 -14\\3190 150 -12\\3690 150 -10\\4190 150 -5\\4690 150 -8\\5190 150 -9\\5690 150 -7\\6190 150 -7\\6690 150 -7\\7190 150 -9\\7690 150 -14\\8190 150 -23\\8690 150 -27\\9360 150 -25\\9865 150 -29\\10370 150 -30\\10875 150 -24\\11380 150 -24\\11885 150 -27\\12390 150 -27\\12895 150 -21\\13400 150 -21\\13905 150 -21\\14410 150 -19\\14915 150 -19\\15420 150 -22\\15925 150 -22\\16430 150 -22\\16935 150 -22\\17440 150 -22\\18000 150 -28\\18188 150 -38\\18375 150 -44\\18562 150 -47\\18750 150 -48\\18938 150 -50\\19125 150 -50\\19312 150 -50\\19500 150 -50\\23812 150 -50\\
0 155 -50\\190 155 -18\\690 155 -15\\1190 155 -16\\1690 155 -14\\2190 155 -15\\2690 155 -15\\3190 155 -12\\3690 155 -10\\4190 155 -7\\4690 155 -7\\5190 155 -7\\5690 155 -9\\6190 155 -9\\6690 155 -9\\7190 155 -11\\7690 155 -17\\8190 155 -24\\8690 155 -29\\9360 155 -27\\9865 155 -32\\10370 155 -26\\10875 155 -24\\11380 155 -24\\11885 155 -24\\12390 155 -24\\12895 155 -23\\13400 155 -23\\13905 155 -23\\14410 155 -20\\14915 155 -20\\15420 155 -23\\15925 155 -23\\16430 155 -23\\16935 155 -23\\17440 155 -23\\18000 155 -29\\18188 155 -39\\18375 155 -44\\18562 155 -47\\18750 155 -48\\18938 155 -50\\19125 155 -50\\19312 155 -50\\19500 155 -50\\23812 155 -50\\
0 160 -33\\190 160 -16\\690 160 -15\\1190 160 -15\\1690 160 -13\\2190 160 -13\\2690 160 -13\\3190 160 -11\\3690 160 -10\\4190 160 -9\\4690 160 -10\\5190 160 -10\\5690 160 -11\\6190 160 -11\\6690 160 -12\\7190 160 -14\\7690 160 -18\\8190 160 -25\\8690 160 -27\\9360 160 -28\\9865 160 -27\\10370 160 -20\\10875 160 -20\\11380 160 -20\\11885 160 -23\\12390 160 -18\\12895 160 -17\\13400 160 -21\\13905 160 -21\\14410 160 -20\\14915 160 -24\\15420 160 -24\\15925 160 -24\\16430 160 -24\\16935 160 -24\\17440 160 -24\\18000 160 -29\\18188 160 -40\\18375 160 -44\\18562 160 -47\\18750 160 -49\\18938 160 -50\\19125 160 -50\\19312 160 -50\\19500 160 -50\\23812 160 -50\\
0 165 -36\\190 165 -16\\690 165 -15\\1190 165 -15\\1690 165 -14\\2190 165 -14\\2690 165 -14\\3190 165 -12\\3690 165 -10\\4190 165 -10\\4690 165 -8\\5190 165 -7\\5690 165 -10\\6190 165 -13\\6690 165 -13\\7190 165 -15\\7690 165 -20\\8190 165 -25\\8690 165 -28\\9360 165 -33\\9865 165 -25\\10370 165 -21\\10875 165 -21\\11380 165 -21\\11885 165 -21\\12390 165 -21\\12895 165 -21\\13400 165 -21\\13905 165 -22\\14410 165 -22\\14915 165 -23\\15420 165 -23\\15925 165 -24\\16430 165 -24\\16935 165 -23\\17440 165 -22\\18000 165 -29\\18188 165 -40\\18375 165 -44\\18562 165 -48\\18750 165 -50\\18938 165 -50\\19125 165 -50\\19312 165 -50\\19500 165 -50\\23812 165 -50\\
0 170 -27\\190 170 -17\\690 170 -14\\1190 170 -14\\1690 170 -13\\2190 170 -15\\2690 170 -14\\3190 170 -8\\3690 170 -7\\4190 170 -7\\4690 170 -10\\5190 170 -10\\5690 170 -13\\6190 170 -14\\6690 170 -16\\7190 170 -16\\7690 170 -21\\8190 170 -27\\8690 170 -32\\9360 170 -35\\9865 170 -25\\10370 170 -20\\10875 170 -16\\11380 170 -21\\11885 170 -21\\12390 170 -21\\12895 170 -16\\13400 170 -19\\13905 170 -20\\14410 170 -20\\14915 170 -26\\15420 170 -26\\15925 170 -26\\16430 170 -26\\16935 170 -23\\17440 170 -23\\18000 170 -29\\18188 170 -39\\18375 170 -44\\18562 170 -47\\18750 170 -48\\18938 170 -50\\19125 170 -50\\19312 170 -50\\19500 170 -50\\23812 170 -50\\
0 175 -35\\190 175 -17\\690 175 -14\\1190 175 -14\\1690 175 -12\\2190 175 -14\\2690 175 -15\\3190 175 -13\\3690 175 -8\\4190 175 -9\\4690 175 -8\\5190 175 -8\\5690 175 -12\\6190 175 -12\\6690 175 -15\\7190 175 -18\\7690 175 -22\\8190 175 -27\\8690 175 -37\\9360 175 -30\\9865 175 -23\\10370 175 -19\\10875 175 -19\\11380 175 -20\\11885 175 -22\\12390 175 -22\\12895 175 -19\\13400 175 -19\\13905 175 -19\\14410 175 -25\\14915 175 -26\\15420 175 -26\\15925 175 -26\\16430 175 -26\\16935 175 -26\\17440 175 -26\\18000 175 -30\\18188 175 -40\\18375 175 -45\\18562 175 -48\\18750 175 -50\\18938 175 -50\\19125 175 -50\\19312 175 -50\\19500 175 -50\\23812 175 -50\\
0 180 -30\\190 180 -18\\690 180 -14\\1190 180 -14\\1690 180 -11\\2190 180 -13\\2690 180 -15\\3190 180 -13\\3690 180 -7\\4190 180 -6\\4690 180 -9\\5190 180 -12\\5690 180 -14\\6190 180 -17\\6690 180 -21\\7190 180 -23\\7690 180 -23\\8190 180 -27\\8690 180 -36\\9360 180 -36\\9865 180 -16\\10370 180 -15\\10875 180 -15\\11380 180 -20\\11885 180 -20\\12390 180 -20\\12895 180 -20\\13400 180 -20\\13905 180 -21\\14410 180 -25\\14915 180 -25\\15420 180 -25\\15925 180 -25\\16430 180 -28\\16935 180 -22\\17440 180 -22\\18000 180 -28\\18188 180 -40\\18375 180 -46\\18562 180 -49\\18750 180 -50\\18938 180 -50\\19125 180 -50\\19312 180 -50\\19500 180 -50\\23812 180 -50\\
0 185 -31\\190 185 -18\\690 185 -14\\1190 185 -14\\1690 185 -12\\2190 185 -12\\2690 185 -13\\3190 185 -12\\3690 185 -10\\4190 185 -9\\4690 185 -8\\5190 185 -9\\5690 185 -12\\6190 185 -15\\6690 185 -20\\7190 185 -22\\7690 185 -22\\8190 185 -29\\8690 185 -32\\9360 185 -27\\9865 185 -19\\10370 185 -13\\10875 185 -16\\11380 185 -20\\11885 185 -24\\12390 185 -24\\12895 185 -22\\13400 185 -22\\13905 185 -22\\14410 185 -22\\14915 185 -25\\15420 185 -31\\15925 185 -37\\16430 185 -33\\16935 185 -26\\17440 185 -26\\18000 185 -29\\18188 185 -40\\18375 185 -45\\18562 185 -48\\18750 185 -50\\18938 185 -50\\19125 185 -50\\19312 185 -50\\19500 185 -50\\23812 185 -50\\
0 190 -36\\190 190 -18\\690 190 -15\\1190 190 -13\\1690 190 -10\\2190 190 -12\\2690 190 -11\\3190 190 -11\\3690 190 -10\\4190 190 -10\\4690 190 -12\\5190 190 -10\\5690 190 -13\\6190 190 -17\\6690 190 -17\\7190 190 -18\\7690 190 -22\\8190 190 -26\\8690 190 -31\\9360 190 -25\\9865 190 -16\\10370 190 -15\\10875 190 -18\\11380 190 -24\\11885 190 -24\\12390 190 -23\\12895 190 -22\\13400 190 -24\\13905 190 -24\\14410 190 -24\\14915 190 -24\\15420 190 -27\\15925 190 -32\\16430 190 -32\\16935 190 -26\\17440 190 -26\\18000 190 -29\\18188 190 -40\\18375 190 -44\\18562 190 -48\\18750 190 -50\\18938 190 -50\\19125 190 -50\\19312 190 -50\\19500 190 -50\\23812 190 -50\\
0 195 -33\\190 195 -18\\690 195 -14\\1190 195 -12\\1690 195 -10\\2190 195 -10\\2690 195 -11\\3190 195 -9\\3690 195 -10\\4190 195 -12\\4690 195 -12\\5190 195 -12\\5690 195 -13\\6190 195 -16\\6690 195 -20\\7190 195 -22\\7690 195 -20\\8190 195 -25\\8690 195 -36\\9360 195 -30\\9865 195 -18\\10370 195 -14\\10875 195 -18\\11380 195 -23\\11885 195 -31\\12390 195 -33\\12895 195 -42\\13400 195 -32\\13905 195 -22\\14410 195 -20\\14915 195 -24\\15420 195 -24\\15925 195 -35\\16430 195 -33\\16935 195 -25\\17440 195 -25\\18000 195 -30\\18188 195 -40\\18375 195 -45\\18562 195 -49\\18750 195 -50\\18938 195 -50\\19125 195 -50\\19312 195 -50\\19500 195 -50\\23812 195 -50\\
0 200 -33\\190 200 -18\\690 200 -14\\1190 200 -12\\1690 200 -9\\2190 200 -9\\2690 200 -12\\3190 200 -6\\3690 200 -8\\4190 200 -8\\4690 200 -12\\5190 200 -12\\5690 200 -14\\6190 200 -17\\6690 200 -20\\7190 200 -19\\7690 200 -25\\8190 200 -30\\8690 200 -25\\9360 200 -21\\9865 200 -15\\10370 200 -13\\10875 200 -22\\11380 200 -24\\11885 200 -28\\12390 200 -35\\12895 200 -37\\13400 200 -25\\13905 200 -25\\14410 200 -25\\14915 200 -25\\15420 200 -25\\15925 200 -26\\16430 200 -25\\16935 200 -25\\17440 200 -25\\18000 200 -31\\18188 200 -42\\18375 200 -46\\18562 200 -49\\18750 200 -50\\18938 200 -50\\19125 200 -50\\19312 200 -50\\19500 200 -50\\23812 200 -50\\
0 205 -30\\190 205 -18\\690 205 -14\\1190 205 -11\\1690 205 -10\\2190 205 -10\\2690 205 -9\\3190 205 -7\\3690 205 -6\\4190 205 -8\\4690 205 -11\\5190 205 -11\\5690 205 -14\\6190 205 -16\\6690 205 -18\\7190 205 -21\\7690 205 -28\\8190 205 -32\\8690 205 -24\\9360 205 -17\\9865 205 -13\\10370 205 -13\\10875 205 -23\\11380 205 -25\\11885 205 -30\\12390 205 -29\\12895 205 -30\\13400 205 -32\\13905 205 -24\\14410 205 -24\\14915 205 -27\\15420 205 -34\\15925 205 -29\\16430 205 -26\\16935 205 -23\\17440 205 -24\\18000 205 -28\\18188 205 -40\\18375 205 -48\\18562 205 -50\\18750 205 -50\\18938 205 -50\\19125 205 -50\\19312 205 -50\\19500 205 -50\\23812 205 -50\\
0 210 -30\\190 210 -18\\690 210 -14\\1190 210 -11\\1690 210 -10\\2190 210 -10\\2690 210 -9\\3190 210 -7\\3690 210 -6\\4190 210 -8\\4690 210 -11\\5190 210 -11\\5690 210 -14\\6190 210 -16\\6690 210 -18\\7190 210 -21\\7690 210 -28\\8190 210 -32\\8690 210 -24\\9360 210 -17\\9865 210 -13\\10370 210 -13\\10875 210 -23\\11380 210 -25\\11885 210 -30\\12390 210 -29\\12895 210 -30\\13400 210 -32\\13905 210 -24\\14410 210 -24\\14915 210 -27\\15420 210 -34\\15925 210 -29\\16430 210 -26\\16935 210 -23\\17440 210 -24\\18000 210 -28\\18188 210 -40\\18375 210 -48\\18562 210 -50\\18750 210 -50\\18938 210 -50\\19125 210 -50\\19312 210 -50\\19500 210 -50\\23812 210 -50\\
};
\coordinate (ll) at (rel axis cs:0,0);
\coordinate (ur) at (rel axis cs:1,1);
\end{axis}
\path (ll) -- (ur) coordinate[pos=0.5] (cc);
\path (cc |- ur) ++(0,12.3pt) node[anchor=base, font=\bfseries\fontsize{11.4}{13.7}\selectfont, text=black]{Median plane +/-2 degrees};
\path (cc |- ll) ++(0,-28.2pt) node[anchor=base, font=\fontsize{11.2}{13.4}\selectfont, text=axgray]{Frequency (Hz)};
\path (ll |- cc) ++(-28.8pt,0) node[anchor=base, rotate=90, font=\fontsize{11.2}{13.4}\selectfont, text=axgray]{Elevation angle (deg)};
\path (ur |- cc) ++(84.89pt,0) node[anchor=base, rotate=90, font=\fontsize{11.2}{13.4}\selectfont, text=axgray]{dB re max};
\pgfresetboundingbox
\path[use as bounding box] ([shift={(-54.34pt,-34.56pt)}]ll) rectangle ([shift={(104.68pt,23.52pt)}]ur);
\end{tikzpicture}
\end{document}
